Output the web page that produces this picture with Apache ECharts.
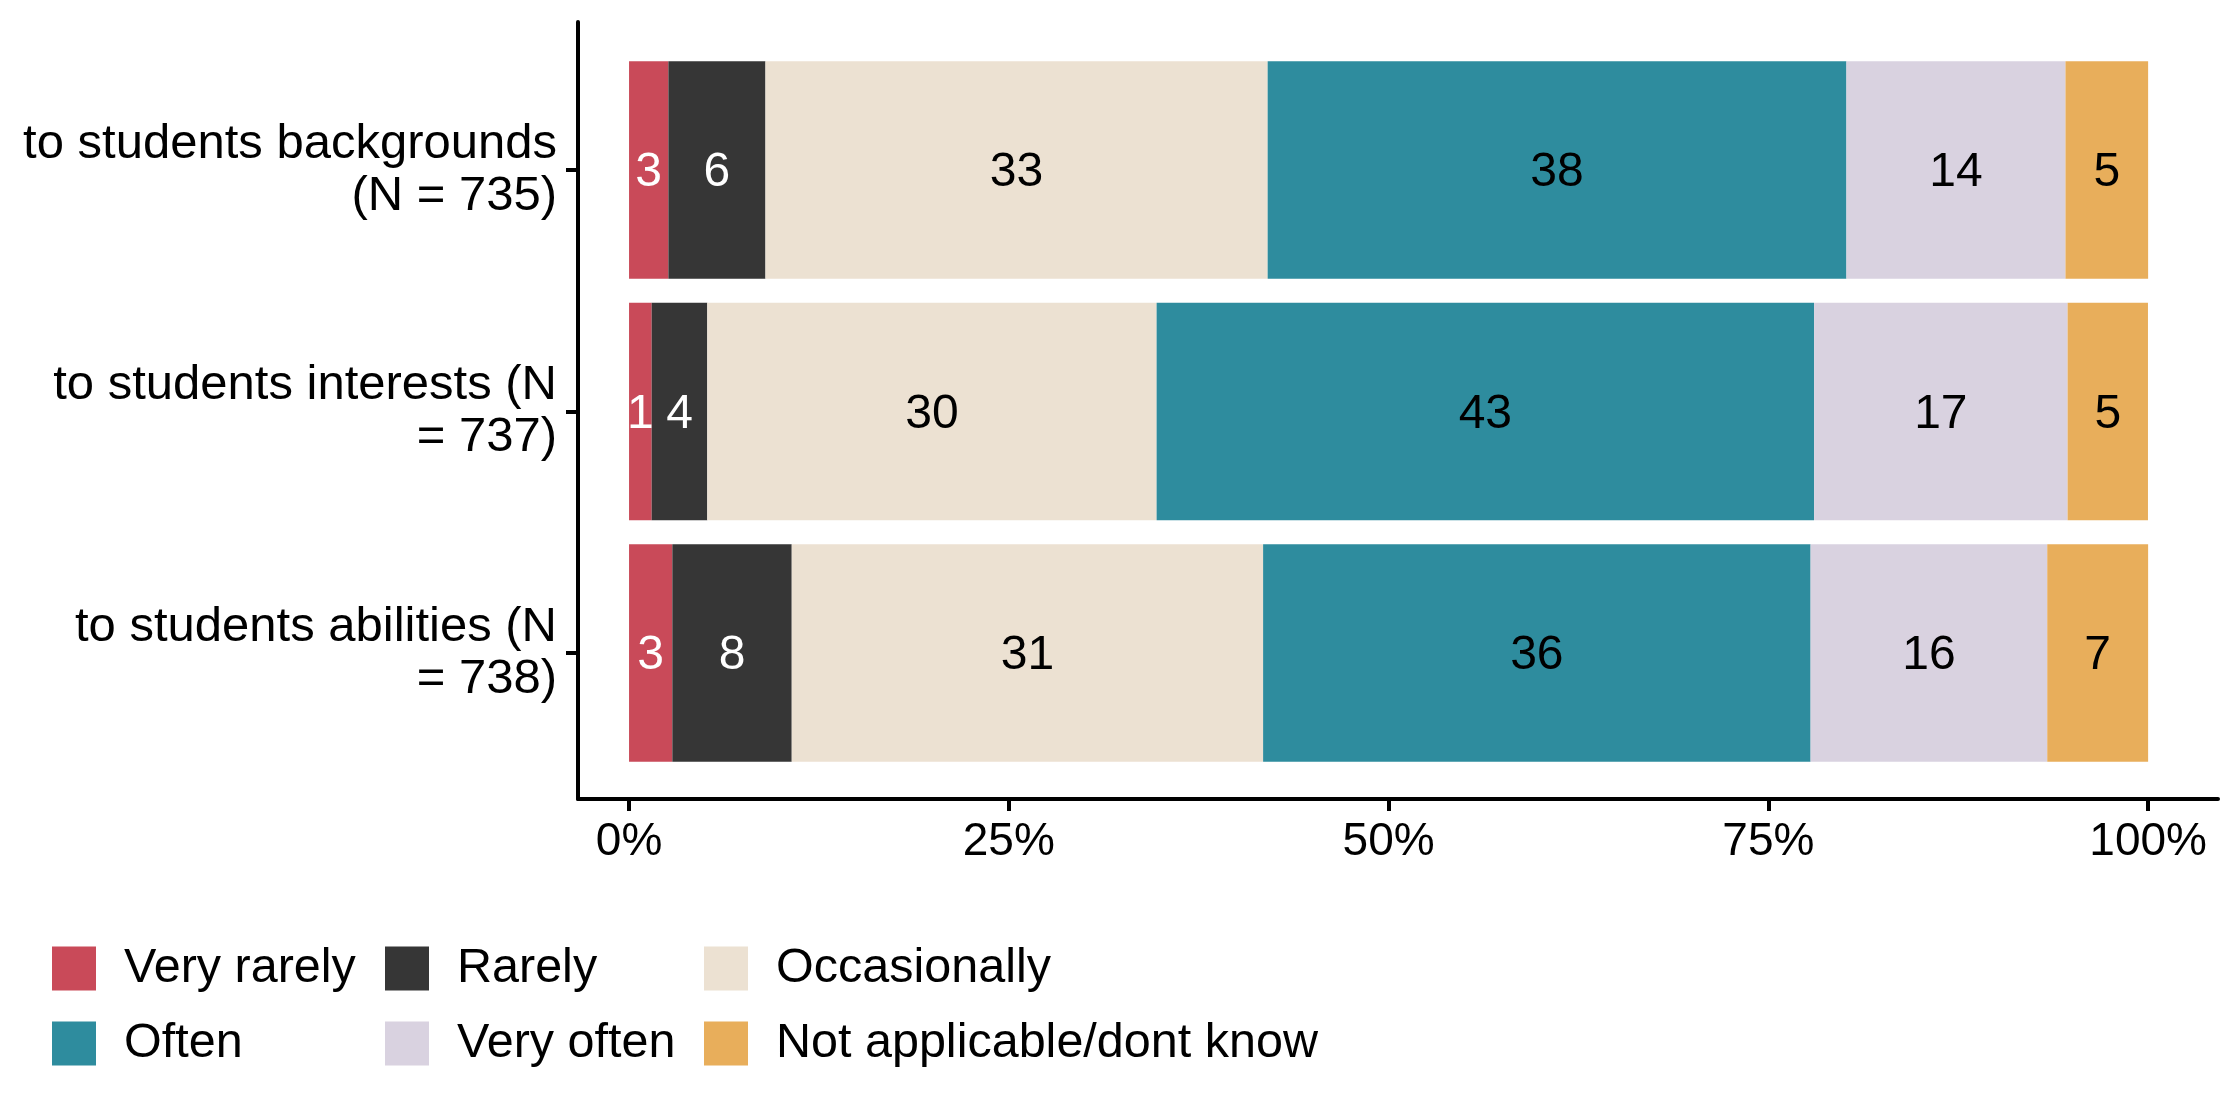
<!DOCTYPE html>
<html>
<head>
<meta charset="utf-8">
<script src="https://cdn.jsdelivr.net/npm/echarts@6/dist/echarts.min.js"></script>
<style>
html, body { margin: 0; padding: 0; background: #fff; }
#chart { width: 2240px; height: 1113px; }
</style>
</head>
<body>
<div id="chart"></div>
<script>
// ---- data (percent of respondents) ----
const categories = [
  "to students backgrounds\n(N = 735)",
  "to students interests (N\n= 737)",
  "to students abilities (N\n= 738)"
];
const seriesNames = ["Very rarely", "Rarely", "Occasionally", "Often", "Very often", "Not applicable/dont know"];
const veryRarely    = [2.59, 1.49, 2.85];
const rarely        = [6.39, 3.66, 7.86];
const occasionally  = [33.06, 29.58, 31.03];
const often         = [38.10, 43.28, 36.04];
const veryOften     = [14.42, 16.69, 15.58];
const notApplicable = [5.44, 5.29, 6.64];
const xTicks = [0, 25, 50, 75, 100];

const colors = ["#C94A59", "#363636", "#ECE1D2", "#2E8C9E", "#D9D2E0", "#E8AE5B"];
const labelColors = ["#ffffff", "#ffffff", "#000000", "#000000", "#000000", "#000000"];
const values = [veryRarely, rarely, occasionally, often, veryOften, notApplicable];

const FONT = "Liberation Sans, Arial, Helvetica, sans-serif";
const X_MIN = -3.36, X_MAX = 104.6;

const chart = echarts.init(document.getElementById('chart'), null, { renderer: 'canvas' });

const series = seriesNames.map((name, i) => ({
  name: name,
  type: 'bar',
  stack: 'total',
  xAxisIndex: 1,
  yAxisIndex: 1,
  barWidth: '90%',
  data: values[i],
  itemStyle: { color: colors[i] },
  emphasis: { disabled: true },
  label: {
    show: true,
    position: 'inside',
    offset: [0, 3],
    color: labelColors[i],
    fontFamily: FONT,
    fontSize: 48,
    formatter: p => String(Math.round(p.value))
  }
}));

const legendCommon = {
  orient: 'vertical',
  top: 944,
  padding: 0,
  itemWidth: 44,
  itemHeight: 44,
  itemGap: 26,
  icon: 'rect',
  selectedMode: false,
  textStyle: { fontFamily: FONT, fontSize: 48.5, color: '#000', lineHeight: 44, padding: [0, 0, 0, 23] }
};

chart.setOption({
  animation: false,
  backgroundColor: '#ffffff',
  textStyle: { fontFamily: FONT },
  grid: [
    { left: 578, top: 22, width: 1640, height: 777, containLabel: false },
    { left: 578, top: 49.25, width: 1640, height: 724.5, containLabel: false }
  ],
  legend: [
    Object.assign({}, legendCommon, { left: 52,  data: [seriesNames[0], seriesNames[3]] }),
    Object.assign({}, legendCommon, { left: 385, data: [seriesNames[1], seriesNames[4]] }),
    Object.assign({}, legendCommon, { left: 704, data: [seriesNames[2], seriesNames[5]] })
  ],
  xAxis: [
    {
      gridIndex: 0, type: 'value', min: X_MIN, max: X_MAX,
      axisLine: { show: true, onZero: false, lineStyle: { color: '#000', width: 4 } },
      axisTick: { show: true, length: 12, lineStyle: { color: '#000', width: 4 }, customValues: xTicks },
      axisLabel: { show: true, customValues: xTicks, margin: 20, color: '#000', fontSize: 46, fontFamily: FONT,
                   formatter: v => v + '%' },
      splitLine: { show: false }
    },
    {
      gridIndex: 1, type: 'value', min: X_MIN, max: X_MAX, show: false,
      splitLine: { show: false }
    }
  ],
  yAxis: [
    {
      gridIndex: 0, type: 'value', min: 0, max: 1,
      axisLine: { show: true, onZero: false, lineStyle: { color: '#000', width: 4 } },
      axisTick: { show: false }, axisLabel: { show: false }, splitLine: { show: false }
    },
    {
      gridIndex: 1, type: 'category', data: categories, inverse: true,
      axisLine: { show: false, onZero: false },
      axisTick: { show: true, alignWithLabel: true, length: 12, lineStyle: { color: '#000', width: 4 } },
      axisLabel: { margin: 21, color: '#000', fontSize: 49, fontFamily: FONT, lineHeight: 52, align: 'right',
                   padding: [8, 0, 0, 0] },
      splitLine: { show: false }
    }
  ],
  series: series
});
</script>
</body>
</html>
